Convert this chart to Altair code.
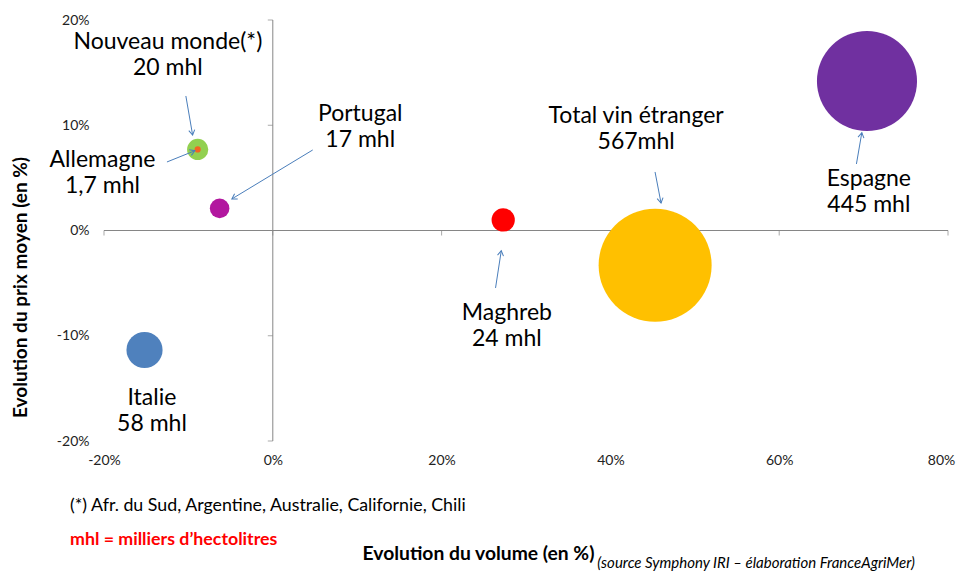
import math
import altair as alt
import pandas as pd

# ---- bubbles ----
names = ["Total vin étranger", "Espagne", "Italie", "Maghreb", "Portugal", "Nouveau monde", "Allemagne"]
vol_change = [45.3, 70.4, -15.2, 27.3, -6.3, -8.9, -8.9]        # Evolution du volume (%)
price_change = [-3.3, 14.2, -11.35, 1.0, 2.1, 7.7, 7.7]          # Evolution du prix moyen (%)
volume_mhl = [567, 445, 58, 24, 17, 20, 1.7]
colors = ["#FFC000", "#7030A0", "#4F81BD", "#FF0000", "#B2179F", "#92D050", "#F26522"]

# ---- annotation labels (data coordinates of the first line) ----
label_text = ["Total vin étranger\n567mhl", "Espagne\n445 mhl", "Italie\n58 mhl",
              "Maghreb\n24 mhl", "Portugal\n17 mhl", "Nouveau monde(*)\n20 mhl",
              "Allemagne\n1,7 mhl"]
label_x = [43.05, 70.62, -14.32, 27.73, 10.36, -12.43, -20.18]
label_y = [10.88, 4.92, -15.89, -7.81, 11.07, 17.91, 6.70]

# ---- arrows (data coordinates) ----
arrow_names = ["Total vin étranger", "Espagne", "Maghreb", "Portugal", "Nouveau monde", "Allemagne"]
arrow_x1 = [45.29, 69.15, 26.39, 4.73, -10.3, -12.54]
arrow_y1 = [5.56, 6.32, -5.46, 7.65, 12.78, 6.51]
arrow_x2 = [46.0, 69.79, 27.07, -4.85, -9.5, -9.23]
arrow_y2 = [2.61, 9.29, -1.92, 3.0, 9.07, 7.58]

# ---- axes ----
x_ticks = [-20, 0, 20, 40, 60, 80]
y_ticks = [-20, -10, 0, 10, 20]

footnote = "(*) Afr. du Sud, Argentine, Australie, Californie, Chili"
unit_note = "mhl = milliers d\u2019hectolitres"
source_note = "(source Symphony IRI \u2013 élaboration FranceAgriMer)"

W, H = 844, 421
FONT = "Lato"
AXIS_GREY = "#868686"
ARROW = "#4A7EBB"

xs = alt.Scale(domain=[min(x_ticks), max(x_ticks)], nice=False, zero=False)
ys = alt.Scale(domain=[min(y_ticks), max(y_ticks)], nice=False, zero=False)

bubbles = pd.DataFrame({"name": names, "vol": vol_change, "prix": price_change,
                        "mhl": volume_mhl, "ord": list(range(len(names)))})
labels = pd.DataFrame({"text": label_text, "x": label_x, "y": label_y})

px_x = W / (max(x_ticks) - min(x_ticks))
px_y = H / (max(y_ticks) - min(y_ticks))
angles = []
for a, b, c, d in zip(arrow_x1, arrow_y1, arrow_x2, arrow_y2):
    dx = (c - a) * px_x
    dy = -(d - b) * px_y
    angles.append(math.degrees(math.atan2(dx, -dy)) % 360)
arrows = pd.DataFrame({"name": arrow_names, "x1": arrow_x1, "y1": arrow_y1,
                       "x2": arrow_x2, "y2": arrow_y2, "angle": angles})

xaxis = alt.Axis(values=x_ticks, labelExpr="datum.value + '%'", domain=False, ticks=False,
                 tickSize=0, grid=False, labelFlush=False, labelFont=FONT, labelFontSize=14,
                 labelColor="#222222", labelPadding=12,
                 labelOffset={"condition": {"test": "datum.value == %d" % max(x_ticks), "value": -7},
                              "value": 0},
                 title="Evolution du volume (en %)", titleFont=FONT, titleFontSize=19.3,
                 titleFontWeight="bold", titleColor="#000000", titleX=374, titleY=112,
                 titleBaseline="middle", titleAlign="center")
yaxis = alt.Axis(values=y_ticks, labelExpr="datum.value + '%'", domain=False, ticks=False,
                 tickSize=0, grid=False, labelFlush=False, labelFont=FONT, labelFontSize=14,
                 labelColor="#222222", labelPadding=15,
                 title="Evolution du prix moyen (en %)", titleFont=FONT, titleFontSize=19,
                 titleFontWeight="bold", titleColor="#000000", titleX=-84, titleY=267,
                 titleAngle=270, titleBaseline="middle", titleAlign="center")

# cross axes through zero
xline = alt.Chart(pd.DataFrame({"a": [min(x_ticks)], "b": [max(x_ticks)], "z": [0]})).mark_rule(
    color=AXIS_GREY, strokeWidth=1).encode(
    x=alt.X("a:Q", scale=xs, axis=xaxis), x2="b:Q", y=alt.Y("z:Q", scale=ys, axis=yaxis))
yline = alt.Chart(pd.DataFrame({"a": [min(y_ticks)], "b": [max(y_ticks)], "z": [0]})).mark_rule(
    color=AXIS_GREY, strokeWidth=1).encode(
    y=alt.Y("a:Q", scale=ys), y2="b:Q", x=alt.X("z:Q", scale=xs))
xt = alt.Chart(pd.DataFrame({"v": x_ticks, "z": [0] * len(x_ticks)})).mark_tick(
    color=AXIS_GREY, orient="vertical", size=5, thickness=1, yOffset=2.5).encode(
    x=alt.X("v:Q", scale=xs), y=alt.Y("z:Q", scale=ys))
yt = alt.Chart(pd.DataFrame({"v": y_ticks, "z": [0] * len(y_ticks)})).mark_tick(
    color=AXIS_GREY, orient="horizontal", size=5, thickness=1, xOffset=-2.5).encode(
    y=alt.Y("v:Q", scale=ys), x=alt.X("z:Q", scale=xs))

bub = alt.Chart(bubbles).mark_circle(opacity=1).encode(
    x=alt.X("vol:Q", scale=xs),
    y=alt.Y("prix:Q", scale=ys),
    size=alt.Size("mhl:Q", scale=alt.Scale(type="linear", domain=[0, 567], range=[0, 12769]),
                  legend=None),
    color=alt.Color("name:N", scale=alt.Scale(domain=names, range=colors), legend=None),
    order=alt.Order("ord:Q"),
)

arrow_lines = alt.Chart(arrows).mark_rule(color=ARROW, strokeWidth=1).encode(
    x=alt.X("x1:Q", scale=xs), y=alt.Y("y1:Q", scale=ys), x2="x2:Q", y2="y2:Q")
arrow_heads = alt.Chart(arrows).mark_point(
    shape="M -0.6 1 L 0 0 L 0.6 1", filled=False, stroke=ARROW, strokeWidth=1,
    opacity=1, size=100).encode(
    x=alt.X("x2:Q", scale=xs), y=alt.Y("y2:Q", scale=ys), angle=alt.Angle("angle:Q", scale=None))

txt = alt.Chart(labels).mark_text(font=FONT, fontSize=23, color="#000000", align="center",
                                  baseline="middle", lineBreak="\n", lineHeight=26).encode(
    x=alt.X("x:Q", scale=xs), y=alt.Y("y:Q", scale=ys), text="text:N")

note1 = alt.Chart(pd.DataFrame({"t": [footnote]})).mark_text(
    font=FONT, fontSize=17.8, color="#000000", align="left", baseline="middle").encode(
    x=alt.value(-34), y=alt.value(486), text="t:N")
note2 = alt.Chart(pd.DataFrame({"t": [unit_note]})).mark_text(
    font=FONT, fontSize=17.8, fontWeight="bold", color="#FF0000", align="left",
    baseline="middle").encode(x=alt.value(-34), y=alt.value(520), text="t:N")
note3 = alt.Chart(pd.DataFrame({"t": [source_note]})).mark_text(
    font=FONT, fontSize=15, fontStyle="italic", color="#000000", align="right",
    baseline="middle").encode(x=alt.value(811), y=alt.value(543), text="t:N")

chart = alt.layer(xline, yline, xt, yt, bub, arrow_lines, arrow_heads, txt, note1, note2, note3).properties(
    width=W, height=H,
    padding={"left": 96, "top": 12, "right": 8, "bottom": 131},
    autosize=alt.AutoSizeParams(type="none"),
    background="#FFFFFF",
).configure_view(stroke=None)

chart.save("out.html", embed_options={"renderer": "svg", "actions": False})
